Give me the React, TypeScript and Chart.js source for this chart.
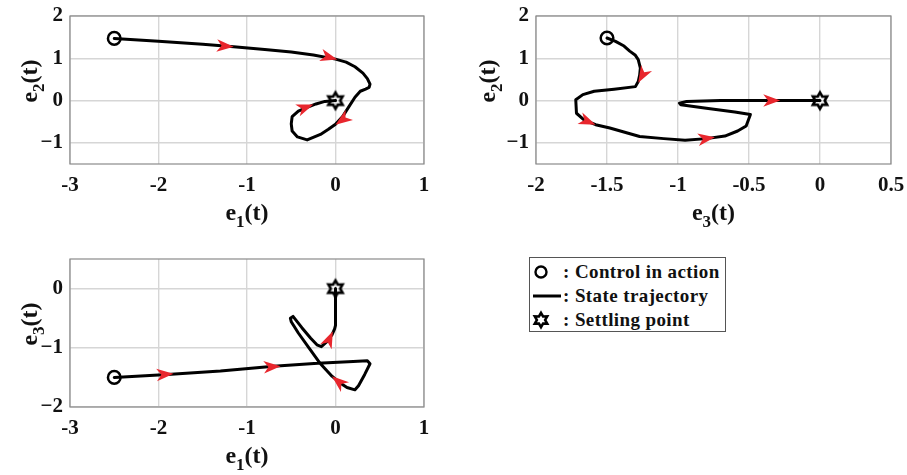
import React, { useEffect, useRef } from "react";
import { Chart, registerables } from "chart.js";

Chart.register(...registerables);

// ---------- Panel 1: e1(t) vs e2(t) ----------
const p1E1 = [-2.5, -2.0, -1.5, -1.15, -0.8, -0.5, -0.25, 0.0, 0.12, 0.22, 0.31, 0.36, 0.39, 0.38, 0.34, 0.28, 0.22, 0.15, 0.08, 0.0, -0.08, -0.17, -0.32, -0.43, -0.49, -0.5, -0.49, -0.42, -0.32, -0.22, -0.12, 0.0];
const p1E2 = [1.47, 1.4, 1.33, 1.27, 1.21, 1.15, 1.08, 0.98, 0.91, 0.8, 0.65, 0.52, 0.39, 0.31, 0.27, 0.22, 0.08, -0.15, -0.38, -0.56, -0.68, -0.8, -0.93, -0.86, -0.72, -0.55, -0.38, -0.25, -0.16, -0.08, -0.02, 0.0];
const p1ArrowE1 = [-1.15, 0.02, 0.0, -0.25];
const p1ArrowE2 = [1.27, 0.97, -0.57, -0.09];
const p1XTicks = [-3, -2, -1, 0, 1];
const p1YTicks = [-1, 0, 1, 2];

// ---------- Panel 2: e3(t) vs e2(t) ----------
const p2E3 = [-1.5, -1.44, -1.38, -1.34, -1.3, -1.28, -1.265, -1.27, -1.28, -1.3, -1.45, -1.59, -1.67, -1.72, -1.715, -1.66, -1.58, -1.48, -1.27, -1.1, -0.95, -0.8, -0.67, -0.58, -0.52, -0.49, -0.6, -0.8, -0.98, -0.99, -0.94, -0.7, -0.3, 0.0];
const p2E2 = [1.48, 1.4, 1.29, 1.17, 1.07, 0.97, 0.77, 0.6, 0.45, 0.33, 0.27, 0.22, 0.14, 0.02, -0.3, -0.46, -0.57, -0.65, -0.85, -0.9, -0.94, -0.9, -0.84, -0.72, -0.6, -0.33, -0.27, -0.18, -0.1, -0.06, -0.02, 0.0, 0.0, 0.0];
const p2ArrowE3 = [-1.28, -1.58, -0.74, -0.28];
const p2ArrowE2 = [0.42, -0.57, -0.87, 0.0];
const p2XTicks = [-2, -1.5, -1, -0.5, 0, 0.5];
const p2YTicks = [-1, 0, 1, 2];

// ---------- Panel 3: e1(t) vs e3(t) ----------
const p3E1 = [-2.5, -1.9, -1.3, -0.7, -0.2, 0.2, 0.36, 0.39, 0.33, 0.26, 0.22, 0.13, 0.04, -0.04, -0.17, -0.3, -0.42, -0.5, -0.51, -0.48, -0.38, -0.28, -0.21, -0.16, -0.1, -0.04, -0.01, 0.0, 0.0];
const p3E3 = [-1.5, -1.45, -1.39, -1.31, -1.26, -1.23, -1.22, -1.27, -1.45, -1.64, -1.71, -1.67, -1.58, -1.48, -1.27, -1.0, -0.75, -0.56, -0.5, -0.47, -0.66, -0.84, -0.95, -0.98, -0.9, -0.78, -0.68, -0.62, 0.0];
const p3ArrowE1 = [-1.83, -0.62, -0.04, -0.03];
const p3ArrowE3 = [-1.44, -1.31, -1.48, -0.72];
const p3XTicks = [-3, -2, -1, 0, 1];
const p3YTicks = [-2, -1, 0];

const legendLabels = [": Control in action", ": State trajectory", ": Settling point"];

const SERIF = "'Liberation Serif', 'Times New Roman', serif";

type Spec = {
  left: number; top: number; w: number; h: number;
  area: { l: number; t: number; r: number; b: number };
  xs: number[]; ys: number[]; ax: number[]; ay: number[];
  xMin: number; xMax: number; yMin: number; yMax: number;
  xTicks: number[]; yTicks: number[];
  xSub: string; ySub: string; yTitleX: number;
};

function makeHexagram(): HTMLCanvasElement {
  const c = document.createElement("canvas");
  c.width = 24; c.height = 24;
  const g = c.getContext("2d")!;
  const R = 8.2, r = 4.7;
  g.beginPath();
  for (let i = 0; i < 12; i++) {
    const ang = -Math.PI / 2 + (i * Math.PI) / 6;
    const rr = i % 2 === 0 ? R : r;
    const px = 12 + rr * Math.cos(ang), py = 12 + rr * Math.sin(ang);
    if (i === 0) g.moveTo(px, py); else g.lineTo(px, py);
  }
  g.closePath();
  g.lineWidth = 2.6;
  g.lineJoin = "miter";
  g.strokeStyle = "#000";
  g.stroke();
  return c;
}

function drawLabel(ctx: CanvasRenderingContext2D, sub: string, cx: number, cy: number, rotate: boolean) {
  const mainFont = `bold 24px ${SERIF}`;
  const subFont = `bold 17px ${SERIF}`;
  ctx.save();
  ctx.fillStyle = "#111";
  ctx.textBaseline = "alphabetic";
  ctx.textAlign = "left";
  ctx.font = mainFont;
  const wE = ctx.measureText("e").width;
  const wT = ctx.measureText("(t)").width;
  ctx.font = subFont;
  const wS = ctx.measureText(sub).width;
  const total = wE + wS + wT;
  ctx.translate(cx, cy);
  if (rotate) ctx.rotate(-Math.PI / 2);
  let x = -total / 2;
  ctx.font = mainFont;
  ctx.fillText("e", x, 0);
  x += wE;
  ctx.font = subFont;
  ctx.fillText(sub, x, 7);
  x += wS;
  ctx.font = mainFont;
  ctx.fillText("(t)", x, 0);
  ctx.restore();
}

function makePlugin(spec: Spec) {
  return {
    id: "phaseDecor",
    beforeDatasetsDraw(chart: any) {
      const { ctx, chartArea } = chart;
      ctx.save();
      ctx.strokeStyle = "#8a8a8a";
      ctx.lineWidth = 1.2;
      ctx.strokeRect(chartArea.left, chartArea.top, chartArea.right - chartArea.left, chartArea.bottom - chartArea.top);
      ctx.restore();
    },
    afterDatasetsDraw(chart: any) {
      const { ctx, scales } = chart;
      const sx = scales.x, sy = scales.y;
      const pts = spec.xs.map((v, i) => [sx.getPixelForValue(v), sy.getPixelForValue(spec.ys[i])]);
      ctx.save();
      ctx.fillStyle = "#e8262d";
      for (let k = 0; k < spec.ax.length; k++) {
        const px = sx.getPixelForValue(spec.ax[k]);
        const py = sy.getPixelForValue(spec.ay[k]);
        let best = Infinity, dx = 1, dy = 0;
        for (let i = 0; i < pts.length - 1; i++) {
          const a = pts[i], b = pts[i + 1];
          const vx = b[0] - a[0], vy = b[1] - a[1];
          const len2 = vx * vx + vy * vy;
          if (len2 === 0) continue;
          let t = ((px - a[0]) * vx + (py - a[1]) * vy) / len2;
          t = Math.max(0, Math.min(1, t));
          const qx = a[0] + t * vx, qy = a[1] + t * vy;
          const d2 = (px - qx) ** 2 + (py - qy) ** 2;
          if (d2 < best) {
            best = d2;
            const l = Math.sqrt(len2);
            dx = vx / l; dy = vy / l;
          }
        }
        const L = 17, W = 6.3;
        const nx = -dy, ny = dx;
        const bx = px - dx * L, by = py - dy * L;
        ctx.beginPath();
        ctx.moveTo(px, py);
        ctx.lineTo(bx + nx * W, by + ny * W);
        ctx.lineTo(px - dx * L * 0.72, py - dy * L * 0.72);
        ctx.lineTo(bx - nx * W, by - ny * W);
        ctx.closePath();
        ctx.fill();
      }
      ctx.restore();
    },
    afterDraw(chart: any) {
      const { ctx, chartArea } = chart;
      drawLabel(ctx, spec.xSub, (chartArea.left + chartArea.right) / 2, chartArea.bottom + 56, false);
      drawLabel(ctx, spec.ySub, spec.yTitleX, (chartArea.top + chartArea.bottom) / 2 - 9, true);
    },
  };
}

function fmt(v: number, minus: string) {
  const s = String(Math.abs(v));
  return v < 0 ? minus + s : s;
}

function Panel({ spec }: { spec: Spec }) {
  const ref = useRef<HTMLCanvasElement>(null);
  useEffect(() => {
    const canvas = ref.current!;
    const hex = makeHexagram();
    const n = spec.xs.length;
    const tickFont = { family: SERIF, size: 21, weight: "bold" as const };
    const grid = { color: "#d6d6d6", lineWidth: 1.4, drawTicks: false };
    const chart = new Chart(canvas, {
      type: "scatter",
      data: {
        datasets: [
          {
            label: "start",
            data: [{ x: spec.xs[0], y: spec.ys[0] }],
            pointStyle: "circle",
            pointRadius: 6.3,
            borderColor: "#000",
            borderWidth: 2.5,
            backgroundColor: "rgba(0,0,0,0)",
          },
          {
            label: "settle",
            data: [{ x: spec.xs[n - 1], y: spec.ys[n - 1] }],
            pointStyle: hex as any,
            pointRadius: 8,
          },
          {
            label: "trajectory",
            data: spec.xs.map((v, i) => ({ x: v, y: spec.ys[i] })),
            showLine: true,
            borderColor: "#000",
            borderWidth: 3,
            pointRadius: 0,
            tension: 0,
            borderJoinStyle: "round",
            borderCapStyle: "round",
          } as any,
        ],
      },
      options: {
        animation: false,
        responsive: false,
        events: [],
        layout: { padding: { left: 0, top: spec.area.t, right: spec.w - spec.area.r, bottom: 0 } },
        plugins: { legend: { display: false }, tooltip: { enabled: false } },
        scales: {
          x: {
            type: "linear",
            min: spec.xMin,
            max: spec.xMax,
            afterBuildTicks: (s: any) => { s.ticks = spec.xTicks.map((v) => ({ value: v })); },
            afterFit: (s: any) => { s.height = spec.h - spec.area.b; s.paddingLeft = 0; s.paddingRight = 0; },
            grid,
            border: { display: false },
            ticks: { font: tickFont, color: "#111", padding: 9, maxRotation: 0, autoSkip: false, callback: (v: any) => fmt(Number(v), "-") },
          },
          y: {
            type: "linear",
            min: spec.yMin,
            max: spec.yMax,
            afterBuildTicks: (s: any) => { s.ticks = spec.yTicks.map((v) => ({ value: v })); },
            afterFit: (s: any) => { s.width = spec.area.l; s.paddingTop = 0; s.paddingBottom = 0; },
            grid,
            border: { display: false },
            ticks: { font: tickFont, color: "#111", padding: 7, autoSkip: false, callback: (v: any) => fmt(Number(v), "\u2212") },
          },
        },
      } as any,
      plugins: [makePlugin(spec) as any],
    });
    return () => chart.destroy();
  }, [spec]);
  return (
    <canvas
      ref={ref}
      width={spec.w}
      height={spec.h}
      style={{ position: "absolute", left: spec.left, top: spec.top, width: spec.w, height: spec.h }}
    />
  );
}

const specs: Spec[] = [
  {
    left: 0, top: 0, w: 455, h: 235,
    area: { l: 70, t: 16, r: 424, b: 164 },
    xs: p1E1, ys: p1E2, ax: p1ArrowE1, ay: p1ArrowE2,
    xMin: -3, xMax: 1, yMin: -1.5, yMax: 2,
    xTicks: p1XTicks, yTicks: p1YTicks,
    xSub: "1", ySub: "2", yTitleX: 37,
  },
  {
    left: 455, top: 0, w: 452, h: 235,
    area: { l: 81, t: 16, r: 436, b: 164 },
    xs: p2E3, ys: p2E2, ax: p2ArrowE3, ay: p2ArrowE2,
    xMin: -2, xMax: 0.5, yMin: -1.5, yMax: 2,
    xTicks: p2XTicks, yTicks: p2YTicks,
    xSub: "3", ySub: "2", yTitleX: 40,
  },
  {
    left: 0, top: 235, w: 455, h: 240,
    area: { l: 70, t: 24, r: 424, b: 172 },
    xs: p3E1, ys: p3E3, ax: p3ArrowE1, ay: p3ArrowE3,
    xMin: -3, xMax: 1, yMin: -2, yMax: 0.5,
    xTicks: p3XTicks, yTicks: p3YTicks,
    xSub: "1", ySub: "3", yTitleX: 37,
  },
];

function Hexagram({ cx, cy }: { cx: number; cy: number }) {
  const R = 7.2, r = 4.1;
  const pts: string[] = [];
  for (let i = 0; i < 12; i++) {
    const ang = -Math.PI / 2 + (i * Math.PI) / 6;
    const rr = i % 2 === 0 ? R : r;
    pts.push(`${(cx + rr * Math.cos(ang)).toFixed(2)},${(cy + rr * Math.sin(ang)).toFixed(2)}`);
  }
  return <polygon points={pts.join(" ")} fill="none" stroke="#000" strokeWidth={2.5} />;
}

function Legend() {
  const rowStyle: React.CSSProperties = { height: 24, display: "flex", alignItems: "center", position: "relative" };
  const symbols = [
    <circle key="c" cx={10} cy={12} r={5.5} fill="none" stroke="#000" strokeWidth={2.4} />,
    <line key="l" x1={2} x2={30} y1={12} y2={12} stroke="#000" strokeWidth={3} />,
    <Hexagram key="h" cx={10} cy={12} />,
  ];
  return (
    <div
      style={{
        position: "absolute", left: 529, top: 257, width: 197, height: 75,
        border: "1.3px solid #555", boxSizing: "border-box", background: "#fff",
        fontFamily: SERIF, fontWeight: "bold", fontSize: 19, letterSpacing: 0.4, color: "#111", paddingTop: 2,
      }}
    >
      {legendLabels.map((t, i) => (
        <div key={t} style={rowStyle}>
          <svg width={31} height={24} style={{ flex: "0 0 auto", marginLeft: 1 }}>{symbols[i]}</svg>
          <span style={{ whiteSpace: "nowrap", marginLeft: 1 }}>{t}</span>
        </div>
      ))}
    </div>
  );
}

export default function App() {
  return (
    <div style={{ position: "absolute", left: 0, top: 0, width: 907, height: 475, background: "#fff", overflow: "hidden" }}>
      {specs.map((s, i) => (
        <Panel key={i} spec={s} />
      ))}
      <Legend />
    </div>
  );
}
